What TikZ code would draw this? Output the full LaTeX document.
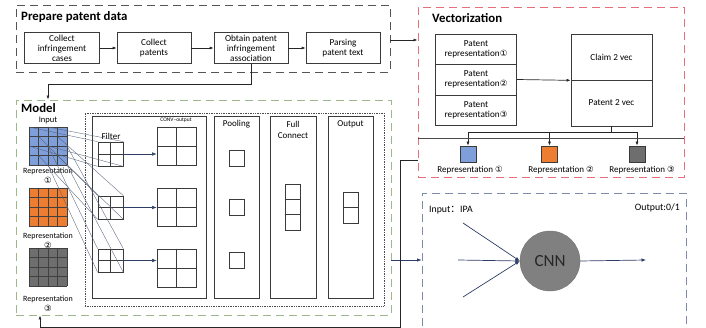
\documentclass[tikz,border=0pt]{standalone}
\usepackage{fontspec}
\setmainfont{Carlito}
\newfontfamily\symf{DejaVu Sans}
\newfontfamily\cjkf{Noto Sans CJK SC}
\usetikzlibrary{arrows.meta,calc}
\newcommand\cn[1]{{\symf\fontsize{8.5}{9}\selectfont #1}}
\definecolor{bordergray}{HTML}{3A3A3A}
\definecolor{prepdash}{HTML}{555555}
\definecolor{vecred}{HTML}{E5707C}
\definecolor{modgreen}{HTML}{9DB88C}
\definecolor{cnnblue}{HTML}{7C89A8}
\definecolor{gblue}{HTML}{7E9FDA}
\definecolor{gorange}{HTML}{ED7D31}
\definecolor{ggray}{HTML}{6E6E6E}
\definecolor{linkblue}{HTML}{2E3D66}
\definecolor{thinl}{HTML}{56607A}
\tikzset{
  box/.style={draw=bordergray,line width=0.7pt,inner sep=1pt,align=center,font=\fontsize{9.2}{10}\selectfont},
  frame/.style={line width=0.9pt,dash pattern=on 8pt off 5pt,inner sep=0pt},
  arr/.style={draw=black!85,line width=0.7pt,-{Latex[length=4pt,width=3pt]}},
  plain/.style={draw=black!85,line width=0.7pt},
  title/.style={font=\bfseries\fontsize{12.8}{13}\selectfont,anchor=west,inner sep=0pt},
  lab/.style={font=\fontsize{8.5}{9}\selectfont,inner sep=0pt,align=center},
  gridline/.style={draw=black!75,line width=0.5pt},
  thin/.style={draw=thinl,line width=0.35pt},
  bluearr/.style={draw=linkblue,line width=0.7pt,-{Latex[length=4.5pt,width=3.5pt]}},
}
\begin{document}
\begin{tikzpicture}[x=1pt,y=-1pt]
\useasboundingbox (0,0) rectangle (706,328);
% ---------- Prepare patent data ----------
\node[frame,draw=prepdash,minimum width=374pt,minimum height=67pt] (prep) at (203,38.5) {};
\node[title] (tprep) at (21,17) {Prepare patent data};
\node[box,minimum width=75pt,minimum height=31pt] (c1) at (62,48) {Collect\\infringement\\cases};
\node[box,minimum width=74pt,minimum height=31pt] (c2) at (154,48) {Collect\\patents};
\node[box,minimum width=74pt,minimum height=31pt] (c3) at (251,48) {Obtain patent\\infringement\\association};
\node[box,minimum width=74pt,minimum height=31pt] (c4) at (343,48) {Parsing\\patent text};
\draw[arr] (c1) -- (c2);
\draw[arr] (c2) -- (c3);
\draw[arr] (c3) -- (c4);
% ---------- Vectorization ----------
\node[frame,draw=vecred,minimum width=266pt,minimum height=170pt] (vec) at (551,92) {};
\node[title] (tvec) at (432,18) {Vectorization};
\draw[arr] (prep.east |- 0,40) -- (vec.west |- 0,40);
\node[box,minimum width=81pt,minimum height=30pt] (p1) at (476,49) {Patent\\representation\cn{①}};
\node[box,minimum width=81pt,minimum height=31pt] (p2) at (476,79.5) {Patent\\representation\cn{②}};
\node[box,minimum width=81pt,minimum height=30pt] (p3) at (476,110) {Patent\\representation\cn{③}};
\node[box,minimum width=81pt,minimum height=46pt] (claim) at (611.5,57) {Claim 2 vec};
\node[box,minimum width=81pt,minimum height=46pt] (pvec) at (611.5,103) {Patent 2 vec};
\draw[arr] (p2.east) -- (claim.south west);
\node[draw=bordergray,line width=0.7pt,fill=gblue,minimum size=16pt,inner sep=0pt] (r1) at (468,154) {};
\node[draw=bordergray,line width=0.7pt,fill=gorange,minimum size=16pt,inner sep=0pt] (r2) at (549.5,154) {};
\node[draw=bordergray,line width=0.7pt,fill=ggray,minimum size=16pt,inner sep=0pt] (r3) at (637,154) {};
\coordinate (bj) at (611.5,132);
\draw[plain] (pvec.south) -- (bj);
\draw[plain] (r1.north |- bj) -- (r3.north |- bj);
\draw[arr] (r1.north |- bj) -- (r1.north);
\draw[arr] (r2.north |- bj) -- (r2.north);
\draw[arr] (r3.north |- bj) -- (r3.north);
\draw[draw=black!70,line width=0.7pt] (vec.west |- 0,138) -- (vec.east |- 0,138);
\node[lab,font=\fontsize{9}{9.5}\selectfont] (l1) at (470,170) {Representation \cn{①}};
\node[lab,font=\fontsize{9}{9.5}\selectfont] (l2) at (561,170) {Representation \cn{②}};
\node[lab,font=\fontsize{9}{9.5}\selectfont] (l3) at (642,170) {Representation \cn{③}};
% ---------- Model ----------
\node[frame,draw=modgreen,minimum width=375pt,minimum height=215pt] (model) at (203.5,207.5) {};
\node[title] (tmod) at (21,108) {Model};
\coordinate (m1) at (48,84);
\draw[arr] (c3.south) |- (m1) -- (m1 |- model.north);
\node[draw=black!70,densely dotted,line width=0.7pt,minimum width=299pt,minimum height=193pt] (dot) at (234.5,209.5) {};
\node[draw=bordergray,line width=0.7pt,minimum width=114pt,minimum height=182pt] (conv) at (149,207) {};
\node[draw=bordergray,line width=0.7pt,minimum width=45pt,minimum height=182pt] (pool) at (236.5,207) {};
\node[draw=bordergray,line width=0.7pt,minimum width=46pt,minimum height=182pt] (full) at (293,207) {};
\node[draw=bordergray,line width=0.7pt,minimum width=45pt,minimum height=182pt] (outp) at (350.5,207) {};
\node[lab,font=\fontsize{5.5}{6}\selectfont] (tconv) at (176,120.5) {CONV--output};
\node[lab,font=\fontsize{9}{9}\selectfont] (tfil) at (111,136) {Filter};
\node[lab,font=\fontsize{9}{9}\selectfont] (tpool) at (236.5,124.5) {Pooling};
\node[lab,font=\fontsize{9}{11}\selectfont] (tfull) at (293,129.5) {Full\\Connect};
\node[lab,font=\fontsize{9}{9}\selectfont] (tout) at (350.5,124.5) {Output};
% input grids
\node[lab] (tin) at (48,120) {Input};
\foreach \nm/\col/\yy in {g1/gblue/127,g2/gorange/188,g3/ggray/248}{
  \fill[\col] (29,\yy) rectangle (67,\yy+38);
  \foreach \k in {0,1,2,3,4}{
    \draw[gridline] (29+9.5*\k,\yy) -- (29+9.5*\k,\yy+38);
    \draw[gridline] (29,\yy+9.5*\k) -- (67,\yy+9.5*\k);
  }
}
\node[lab,font=\fontsize{8}{10}\selectfont] (rl1) at (48,175.5) {Representation\\\cn{①}};
\node[lab,font=\fontsize{8}{10}\selectfont] (rl2) at (48,240.5) {Representation\\\cn{②}};
\node[lab,font=\fontsize{8}{10}\selectfont] (rl3) at (48,303.5) {Representation\\\cn{③}};
% filters
\node[draw=bordergray,line width=0.7pt,minimum width=25pt,minimum height=24pt] (f1) at (110.5,154) {};
\node[draw=bordergray,line width=0.7pt,minimum width=25pt,minimum height=23pt] (f2) at (110.5,207.5) {};
\node[draw=bordergray,line width=0.7pt,minimum width=25pt,minimum height=23pt] (f3) at (110.5,260.5) {};
\foreach \f in {f1,f2,f3}{
  \draw[draw=bordergray,line width=0.7pt] (\f.north) -- (\f.south) (\f.west) -- (\f.east);
}
% lines from grid to filters
\foreach \gx/\gy/\f in {29/127/f1,38.5/136.5/f2,48/146/f3}{
  \draw[thin] (\gx,\gy) -- (\f.north west);
  \draw[thin] (\gx+19,\gy) -- (\f.north east);
  \draw[thin] (\gx,\gy+19) -- (\f.south west);
  \draw[thin] (\gx+19,\gy+19) -- (\f.south east);
}
% conv outputs
\node[draw=bordergray,line width=0.7pt,minimum width=39pt,minimum height=38pt] (o1) at (176.5,146.5) {};
\node[draw=bordergray,line width=0.7pt,minimum width=39pt,minimum height=38pt] (o2) at (176.5,207) {};
\node[draw=bordergray,line width=0.7pt,minimum width=39pt,minimum height=38pt] (o3) at (176.5,268) {};
\foreach \o in {o1,o2,o3}{
  \draw[draw=bordergray,line width=0.7pt] (\o.north) -- (\o.south) (\o.west) -- (\o.east);
}
\draw[bluearr,line width=0.5pt] (f1.east) -- (f1.east -| o1.west);
\draw[bluearr,line width=0.5pt] (f2.east) -- (f2.east -| o2.west);
\draw[bluearr,line width=0.5pt] (f3.east) -- (f3.east -| o3.west);
% pooling
\node[draw=bordergray,line width=0.7pt,minimum width=15pt,minimum height=16pt] (q1) at (236.5,158) {};
\node[draw=bordergray,line width=0.7pt,minimum width=15pt,minimum height=16pt] (q2) at (236.5,207.5) {};
\node[draw=bordergray,line width=0.7pt,minimum width=15pt,minimum height=16pt] (q3) at (236.5,260) {};
% full connect
\node[draw=bordergray,line width=0.7pt,minimum width=15pt,minimum height=46pt] (fc) at (292.5,207) {};
\draw[draw=bordergray,line width=0.7pt] ($(fc.north west)!1/3!(fc.south west)$) -- ($(fc.north east)!1/3!(fc.south east)$);
\draw[draw=bordergray,line width=0.7pt] ($(fc.north west)!2/3!(fc.south west)$) -- ($(fc.north east)!2/3!(fc.south east)$);
% output stack
\node[draw=bordergray,line width=0.7pt,minimum width=15pt,minimum height=31pt] (oc) at (350.5,207.5) {};
\draw[draw=bordergray,line width=0.7pt] (oc.west) -- (oc.east);
% ---------- CNN ----------
\node[frame,draw=cnnblue,minimum width=264pt,minimum height=140pt] (cnnbox) at (554,263) {};
\node[anchor=west,inner sep=0pt,font=\fontsize{9.8}{10}\selectfont] (tinp) at (429,210) {Input{\cjkf ：}IPA};
\node[anchor=east,inner sep=0pt,font=\fontsize{9.8}{10}\selectfont] (toutp) at (680,208) {Output:0/1};
\node[circle,fill=black!50,draw=black!55,minimum size=60pt,inner sep=0pt,font=\fontsize{17}{18}\selectfont,text=black!85] (cnn) at (550,261) {CNN};
\coordinate (in1) at (463,223);
\coordinate (in2) at (458,260);
\coordinate (in3) at (463,297);
\coordinate (outc) at (646,260);
\draw[bluearr] (in1) -- (cnn.west);
\draw[bluearr] (in2) -- (cnn.west);
\draw[bluearr] (in3) -- (cnn.west);
\draw[bluearr] (cnn.east) -- (outc);
% ---------- connections ----------
\draw[bluearr] (model.east |- 0,260) -- (cnnbox.west |- 0,260);
\coordinate (v1) at (400,161);
\coordinate (v2) at (400,327);
\coordinate (v3) at (40,327);
\draw[draw=black!85,line width=1pt] (vec.west |- v1) -- (v1) -- (v2) -- (v3);
\draw[arr] (v3) -- (v3 |- model.south);
\end{tikzpicture}
\end{document}
